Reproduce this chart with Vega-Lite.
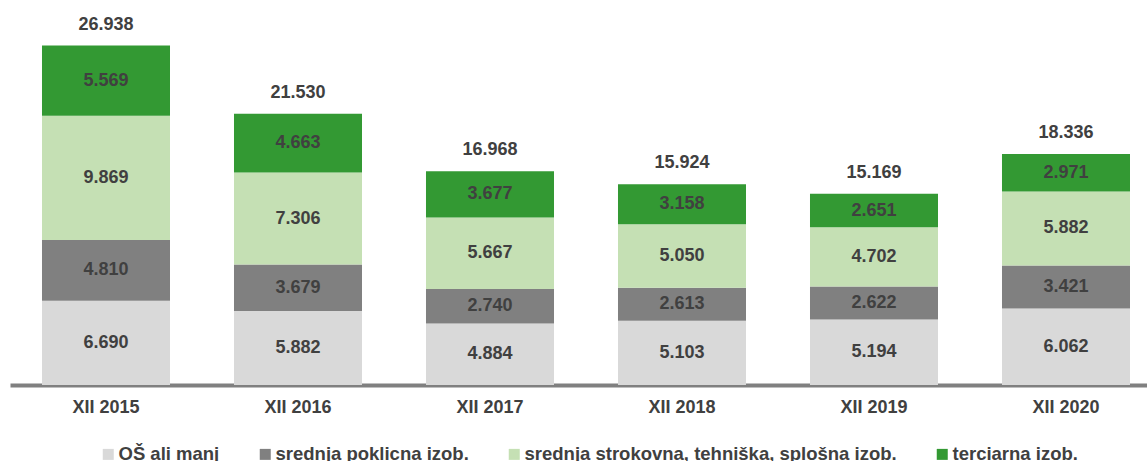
{
  "$schema": "https://vega.github.io/schema/vega-lite/v6.json",
  "width": 1137,
  "height": 378,
  "padding": {"left": 10, "top": 7, "right": 0, "bottom": 0},
  "autosize": {"type": "pad"},
  "config": {
    "view": {"stroke": null},
    "font": "Liberation Sans",
    "locale": {"number": {"decimal": ",", "thousands": ".", "grouping": [3], "currency": ["", " €"]}}
  },
  "data": {
    "values": [
      {"year": "XII 2015", "cat": "OŠ ali manj", "value": 6690},
      {"year": "XII 2015", "cat": "srednja poklicna izob.", "value": 4810},
      {"year": "XII 2015", "cat": "srednja strokovna, tehniška, splošna izob.", "value": 9869},
      {"year": "XII 2015", "cat": "terciarna izob.", "value": 5569},
      {"year": "XII 2016", "cat": "OŠ ali manj", "value": 5882},
      {"year": "XII 2016", "cat": "srednja poklicna izob.", "value": 3679},
      {"year": "XII 2016", "cat": "srednja strokovna, tehniška, splošna izob.", "value": 7306},
      {"year": "XII 2016", "cat": "terciarna izob.", "value": 4663},
      {"year": "XII 2017", "cat": "OŠ ali manj", "value": 4884},
      {"year": "XII 2017", "cat": "srednja poklicna izob.", "value": 2740},
      {"year": "XII 2017", "cat": "srednja strokovna, tehniška, splošna izob.", "value": 5667},
      {"year": "XII 2017", "cat": "terciarna izob.", "value": 3677},
      {"year": "XII 2018", "cat": "OŠ ali manj", "value": 5103},
      {"year": "XII 2018", "cat": "srednja poklicna izob.", "value": 2613},
      {"year": "XII 2018", "cat": "srednja strokovna, tehniška, splošna izob.", "value": 5050},
      {"year": "XII 2018", "cat": "terciarna izob.", "value": 3158},
      {"year": "XII 2019", "cat": "OŠ ali manj", "value": 5194},
      {"year": "XII 2019", "cat": "srednja poklicna izob.", "value": 2622},
      {"year": "XII 2019", "cat": "srednja strokovna, tehniška, splošna izob.", "value": 4702},
      {"year": "XII 2019", "cat": "terciarna izob.", "value": 2651},
      {"year": "XII 2020", "cat": "OŠ ali manj", "value": 6062},
      {"year": "XII 2020", "cat": "srednja poklicna izob.", "value": 3421},
      {"year": "XII 2020", "cat": "srednja strokovna, tehniška, splošna izob.", "value": 5882},
      {"year": "XII 2020", "cat": "terciarna izob.", "value": 2971}
    ]
  },
  "transform": [
    {"stack": "value", "groupby": ["year"], "sort": [{"field": "cat", "order": "ascending"}], "offset": "zero", "as": ["y0", "y1"]}
  ],
  "encoding": {
    "x": {
      "field": "year",
      "type": "nominal",
      "sort": null,
      "scale": {"paddingInner": 0.3333, "paddingOuter": 0.1276, "align": 0.653},
      "axis": {
        "title": null,
        "labelAngle": 0,
        "ticks": false,
        "domainColor": "#808080",
        "domainWidth": 4,
        "labelFontSize": 18,
        "labelFontWeight": "bold",
        "labelColor": "#404040",
        "labelPadding": 13
      }
    }
  },
  "layer": [
    {
      "mark": {"type": "bar"},
      "encoding": {
        "y": {"field": "y1", "type": "quantitative", "scale": {"domain": [0, 30000], "nice": false}, "axis": null},
        "y2": {"field": "y0"},
        "color": {
          "field": "cat",
          "type": "nominal",
          "scale": {
            "domain": ["OŠ ali manj", "srednja poklicna izob.", "srednja strokovna, tehniška, splošna izob.", "terciarna izob."],
            "range": ["#d9d9d9", "#808080", "#c5e0b4", "#339933"]
          },
          "legend": {
            "orient": "none",
            "legendX": 89,
            "legendY": 438,
            "direction": "horizontal",
            "title": null,
            "symbolType": "square",
            "symbolSize": 121,
            "symbolStrokeWidth": 0,
            "labelFontSize": 18.5,
            "labelFontWeight": "bold",
            "labelColor": "#404040",
            "columnPadding": 36,
            "labelOffset": 1,
            "labelLimit": 500
          }
        }
      }
    },
    {
      "transform": [{"calculate": "(datum.y0 + datum.y1) / 2", "as": "mid"}],
      "mark": {"type": "text", "fontSize": 18, "fontWeight": "bold", "color": "#404040", "baseline": "middle"},
      "encoding": {
        "y": {"field": "mid", "type": "quantitative"},
        "text": {"field": "value", "type": "quantitative", "format": ",d"}
      }
    },
    {
      "mark": {"type": "text", "fontSize": 18, "fontWeight": "bold", "color": "#404040", "baseline": "alphabetic", "dy": -16},
      "encoding": {
        "y": {"aggregate": "sum", "field": "value", "type": "quantitative"},
        "text": {"aggregate": "sum", "field": "value", "type": "quantitative", "format": ",d"}
      }
    }
  ]
}
